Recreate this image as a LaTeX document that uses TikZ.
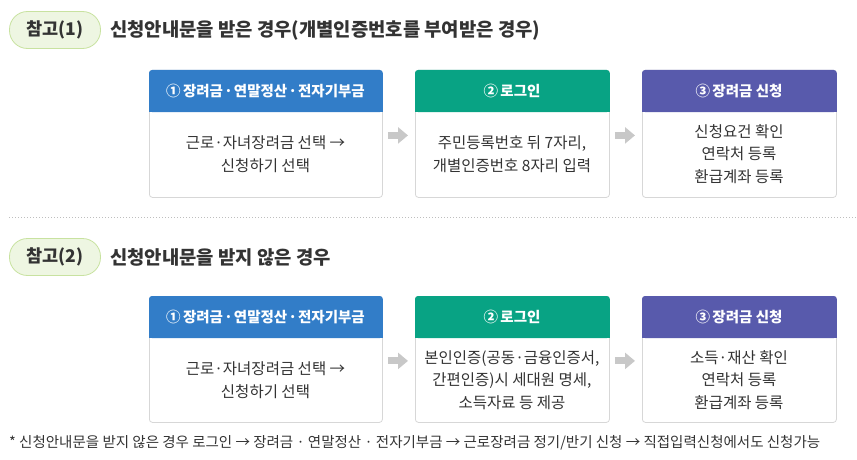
\documentclass[tikz,border=0pt]{standalone}
\usepackage{fontspec}
\setmainfont{Noto Sans CJK KR}
\usetikzlibrary{arrows.meta}
\definecolor{txt}{RGB}{51,51,51}
\definecolor{hblue}{RGB}{50,125,200}
\definecolor{hgreen}{RGB}{8,163,132}
\definecolor{hpurple}{RGB}{88,90,172}
\definecolor{boxline}{RGB}{215,215,215}
\definecolor{pillfill}{RGB}{238,246,226}
\definecolor{pillline}{RGB}{200,226,160}
\definecolor{arrgray}{RGB}{200,200,200}
\definecolor{dotgray}{RGB}{190,190,190}
\begin{document}
\begin{tikzpicture}[x=1pt,y=-1pt,
  pill/.style={draw=pillline,fill=pillfill,line width=0.8pt,rounded corners=18pt,minimum width=91pt,minimum height=37pt,inner sep=0pt,font=\fontsize{17.5}{20}\selectfont\bfseries,text=txt},
  ttl/.style={anchor=west,inner sep=0pt,font=\fontsize{18.8}{22}\selectfont\bfseries,text=txt},
  card/.style={draw=boxline,line width=0.8pt,fill=white,rounded corners=3pt,anchor=north west,inner sep=0pt},
  htext/.style={text=white,inner sep=0pt,font=\fontsize{14.5}{17}\selectfont\bfseries},
  body/.style={text=txt,inner sep=0pt,align=center,font=\fontsize{15.5}{22.5}\selectfont},
  flow/.style={arrgray,line width=7pt,-{Triangle[length=10pt,width=16pt]},shorten <=5pt,shorten >=7pt},
  note/.style={anchor=west,inner sep=0pt,text=txt,font=\fontsize{14.5}{17}\selectfont}
]
\useasboundingbox (0,0) rectangle (857,460);

% ---------- section 1 ----------
\node[pill] (p1) at (55,30) {참고(1)};
\node[ttl] (t1) at (110,30) {신청안내문을 받은 경우(개별인증번호를 부여받은 경우)};

\node[card,minimum width=233pt,minimum height=127pt] (a1) at (149,70) {};
\node[card,minimum width=194pt,minimum height=127pt] (a2) at (415,70) {};
\node[card,minimum width=194pt,minimum height=127pt] (a3) at (642,70) {};

\fill[hblue,rounded corners=3pt] (a1.north west) rectangle ([yshift=-42pt]a1.north east);
\fill[hblue] ([yshift=-20pt]a1.north west) rectangle ([yshift=-42pt]a1.north east);
\fill[hgreen,rounded corners=3pt] (a2.north west) rectangle ([yshift=-42pt]a2.north east);
\fill[hgreen] ([yshift=-20pt]a2.north west) rectangle ([yshift=-42pt]a2.north east);
\fill[hpurple,rounded corners=3pt] (a3.north west) rectangle ([yshift=-42pt]a3.north east);
\fill[hpurple] ([yshift=-20pt]a3.north west) rectangle ([yshift=-42pt]a3.north east);

\node[htext] (ah1) at (265.5,91) {①\,장려금\kern1pt·\kern1pt연말정산\kern1pt·\kern1pt전자기부금};
\node[htext] (ah2) at (512,91) {②\,로그인};
\node[htext] (ah3) at (739,91) {③\,장려금 신청};

\node[body] (ab1) at (265.5,154) {근로·자녀장려금 선택 →\\신청하기 선택};
\node[body] (ab2) at (512,154) {주민등록번호 뒤 7자리,\\개별인증번호 8자리 입력};
\node[body] (ab3) at (739,154) {신청요건 확인\\연락처 등록\\환급계좌 등록};

\draw[flow] ([yshift=-1.5pt]a1.east) -- ([yshift=-1.5pt]a2.west);
\draw[flow] ([yshift=-1.5pt]a2.east) -- ([yshift=-1.5pt]a3.west);

% ---------- separator ----------
\coordinate (s1) at (9,217);
\coordinate (s2) at (857,217);
\draw[dotgray,line width=0.8pt,dash pattern=on 1pt off 2pt] (s1) -- (s2);

% ---------- section 2 ----------
\node[pill] (p2) at (55,257) {참고(2)};
\node[ttl] (t2) at (110,257) {신청안내문을 받지 않은 경우};

\node[card,minimum width=233pt,minimum height=126pt] (b1) at (149,296) {};
\node[card,minimum width=194pt,minimum height=126pt] (b2) at (415,296) {};
\node[card,minimum width=194pt,minimum height=126pt] (b3) at (642,296) {};

\fill[hblue,rounded corners=3pt] (b1.north west) rectangle ([yshift=-42pt]b1.north east);
\fill[hblue] ([yshift=-20pt]b1.north west) rectangle ([yshift=-42pt]b1.north east);
\fill[hgreen,rounded corners=3pt] (b2.north west) rectangle ([yshift=-42pt]b2.north east);
\fill[hgreen] ([yshift=-20pt]b2.north west) rectangle ([yshift=-42pt]b2.north east);
\fill[hpurple,rounded corners=3pt] (b3.north west) rectangle ([yshift=-42pt]b3.north east);
\fill[hpurple] ([yshift=-20pt]b3.north west) rectangle ([yshift=-42pt]b3.north east);

\node[htext] (bh1) at (265.5,317) {①\,장려금\kern1pt·\kern1pt연말정산\kern1pt·\kern1pt전자기부금};
\node[htext] (bh2) at (512,317) {②\,로그인};
\node[htext] (bh3) at (739,317) {③\,장려금 신청};

\node[body] (bb1) at (265.5,380) {근로·자녀장려금 선택 →\\신청하기 선택};
\node[body] (bb2) at (512,380) {본인인증(공동·금융인증서,\\간편인증)시 세대원 명세,\\소득자료 등 제공};
\node[body] (bb3) at (739,380) {소득·재산 확인\\연락처 등록\\환급계좌 등록};

\draw[flow] ([yshift=-1.5pt]b1.east) -- ([yshift=-1.5pt]b2.west);
\draw[flow] ([yshift=-1.5pt]b2.east) -- ([yshift=-1.5pt]b3.west);

% ---------- footnote ----------
\node[note] (fn) at (9,443) {* 신청안내문을 받지 않은 경우 로그인 → 장려금 · 연말정산 · 전자기부금 → 근로장려금 정기/반기 신청 → 직접입력신청에서도 신청가능};
\end{tikzpicture}
\end{document}
